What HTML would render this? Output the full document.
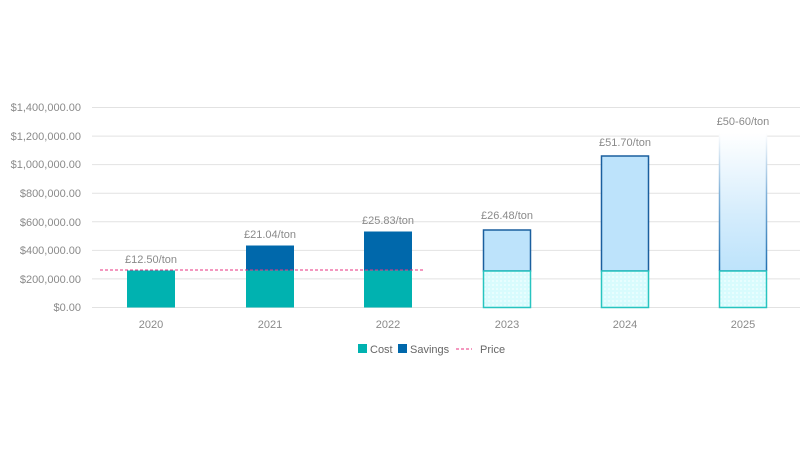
<!DOCTYPE html>
<html><head><style>body{margin:0;background:#fff}</style></head><body>
<svg width="800" height="460" xmlns="http://www.w3.org/2000/svg" font-family="Liberation Sans, sans-serif">
<defs>
<pattern id="p" width="4" height="4" patternUnits="userSpaceOnUse"><rect width="4" height="4" fill="#d8fbfd"/><rect width="2" height="2" fill="#e8fdfe"/></pattern>
<linearGradient id="g" x1="0" y1="0" x2="0" y2="1"><stop offset="0" stop-color="#fff"/><stop offset="0.6" stop-color="#d4ecfc"/><stop offset="1" stop-color="#bde3fb"/></linearGradient>
<linearGradient id="gs" gradientUnits="userSpaceOnUse" x1="0" y1="133" x2="0" y2="271"><stop offset="0" stop-color="#fff"/><stop offset="0.45" stop-color="#7fb0d8"/><stop offset="1" stop-color="#1f6fb0"/></linearGradient>
</defs>
<g stroke="#e2e2e2" stroke-width="1">
<line x1="92" x2="800" y1="107.5" y2="107.5"/><line x1="92" x2="800" y1="136.1" y2="136.1"/><line x1="92" x2="800" y1="164.6" y2="164.6"/><line x1="92" x2="800" y1="193.2" y2="193.2"/><line x1="92" x2="800" y1="221.8" y2="221.8"/><line x1="92" x2="800" y1="250.4" y2="250.4"/><line x1="92" x2="800" y1="278.9" y2="278.9"/><line x1="92" x2="800" y1="307.5" y2="307.5"/>
</g>
<g font-size="11" fill="#8a8a8a" text-anchor="end">
<text x="81" y="111">$1,400,000.00</text><text x="81" y="140">$1,200,000.00</text><text x="81" y="168">$1,000,000.00</text><text x="81" y="197">$800,000.00</text><text x="81" y="226">$600,000.00</text><text x="81" y="254">$400,000.00</text><text x="81" y="283">$200,000.00</text><text x="81" y="311">$0.00</text>
</g>
<g font-size="11" fill="#8a8a8a" text-anchor="middle">
<text x="151" y="328">2020</text><text x="270" y="328">2021</text><text x="388" y="328">2022</text><text x="507" y="328">2023</text><text x="625" y="328">2024</text><text x="743" y="328">2025</text>
</g>
<rect x="127" y="270.5" width="48" height="37" fill="#00b2b0"/>
<rect x="246" y="245.5" width="48" height="25" fill="#0068ab"/><rect x="246" y="270.5" width="48" height="37" fill="#00b2b0"/>
<rect x="364" y="231.5" width="48" height="39" fill="#0068ab"/><rect x="364" y="270.5" width="48" height="37" fill="#00b2b0"/>
<g stroke-width="1.5">
<rect x="483.5" y="230" width="47" height="41" fill="#bde3fb" stroke="#1a5f9e"/><rect x="483.5" y="271" width="47" height="36.5" fill="url(#p)" stroke="#28c4c0"/>
<rect x="601.5" y="156" width="47" height="115" fill="#bde3fb" stroke="#1a5f9e"/><rect x="601.5" y="271" width="47" height="36.5" fill="url(#p)" stroke="#28c4c0"/>
<rect x="719.5" y="133" width="47" height="138" fill="url(#g)" stroke="none"/>
<rect x="718.75" y="133" width="1.5" height="138" fill="url(#gs)" stroke="none"/><rect x="765.75" y="133" width="1.5" height="138" fill="url(#gs)" stroke="none"/>
<line x1="719.5" x2="766.5" y1="271" y2="271" stroke="#1a5f9e"/>
<rect x="719.5" y="271" width="47" height="36.5" fill="url(#p)" stroke="#28c4c0"/>
</g>
<line x1="100" x2="424" y1="270" y2="270" stroke="#e8317f" stroke-width="1" stroke-dasharray="3,2"/>
<g font-size="11" fill="#8a8a8a" text-anchor="middle">
<text x="151" y="263">£12.50/ton</text><text x="270" y="238">£21.04/ton</text><text x="388" y="224">£25.83/ton</text><text x="507" y="219">£26.48/ton</text><text x="625" y="146">£51.70/ton</text><text x="743" y="125">£50-60/ton</text>
</g>
<g font-size="11" fill="#666">
<rect x="358" y="344" width="9" height="9" fill="#00b2b0"/><text x="370" y="353">Cost</text>
<rect x="398" y="344" width="9" height="9" fill="#0068ab"/><text x="410" y="353">Savings</text>
<line x1="456" x2="472" y1="349" y2="349" stroke="#e8317f" stroke-dasharray="3,2"/><text x="480" y="353">Price</text>
</g>
</svg>
</body></html>
